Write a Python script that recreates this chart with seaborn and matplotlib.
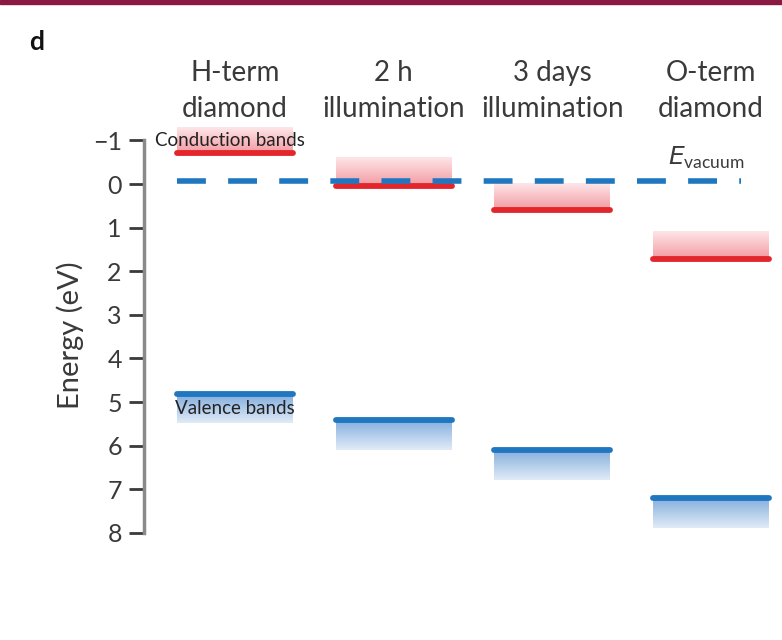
import numpy as np
import pandas as pd
import seaborn as sns
import matplotlib.pyplot as plt
from matplotlib.colors import LinearSegmentedColormap
from matplotlib.patches import Rectangle

# Band positions (energies in eV, positive = below vacuum)
columns = ["H-term\ndiamond", "2 h\nillumination", "3 days\nillumination", "O-term\ndiamond"]
cb_edge = [-0.72, 0.04, 0.60, 1.72]     # conduction band edge (red line)
cb_far = [-1.30, -0.62, 0.00, 1.08]     # top of shaded conduction region
vb_edge = [4.82, 5.41, 6.10, 7.20]      # valence band edge (blue line)
vb_far = [5.48, 6.10, 6.79, 7.89]       # bottom of shaded valence region
e_vacuum = -0.06
yticks = [-1, 0, 1, 2, 3, 4, 5, 6, 7, 8]

sns.set_theme(style="white")
plt.rcParams['font.family'] = ['Lato', 'DejaVu Sans']
plt.rcParams['mathtext.fontset'] = 'dejavusans'

text_col = "#3a3a3a"
red = "#e3262c"
blue = "#1f77c0"
half_w = 0.365

fig = plt.figure(figsize=(7.82, 6.40), dpi=100)
ax = fig.add_axes([144 / 782, 1 - 545.9 / 640, 1 - 144 / 782, 427.3 / 640])

# top magenta rule of the journal panel
fig.patches.append(Rectangle((0, 1 - 4 / 640), 1, 4 / 640, transform=fig.transFigure,
                             color="#8b1a42", zorder=0))

# shaded band regions, fading away from the band edge
pink = LinearSegmentedColormap.from_list("pink", ["#fde6e8", "#f39aa2"])
lblue = LinearSegmentedColormap.from_list("lblue", ["#e0ebf7", "#82addd"])
grad = np.linspace(1, 0, 60).reshape(-1, 1)

for i in range(len(columns)):
    ax.imshow(grad, extent=(i - half_w, i + half_w, cb_far[i], cb_edge[i]),
              cmap=pink, aspect="auto", zorder=1, interpolation="bilinear")
    ax.imshow(grad, extent=(i - half_w, i + half_w, vb_far[i], vb_edge[i]),
              cmap=lblue, aspect="auto", zorder=1, interpolation="bilinear")

# band edge lines as a long table
rows = []
for i in range(len(columns)):
    for dx in (-half_w, half_w):
        rows.append({"x": i + dx, "E": cb_edge[i], "band": f"cb{i}", "kind": "cb"})
        rows.append({"x": i + dx, "E": vb_edge[i], "band": f"vb{i}", "kind": "vb"})
edges = pd.DataFrame(rows)

sns.lineplot(data=edges[edges.kind == "cb"], x="x", y="E", units="band", estimator=None,
             color=red, lw=4.2, ax=ax, zorder=3, sort=False)
sns.lineplot(data=edges[edges.kind == "vb"], x="x", y="E", units="band", estimator=None,
             color=blue, lw=4.2, ax=ax, zorder=3, sort=False)

# vacuum level
sns.lineplot(x=[-half_w, 3.19], y=[e_vacuum, e_vacuum], color=blue, lw=4,
             linestyle=(0, (5.2, 4.0)), ax=ax, zorder=4)

ax.set_xlim(-0.573, 3.447)
ax.set_ylim(8.3, -1.5)
ax.set_yticks(yticks)
ax.set_yticklabels([f"\u2212{abs(t)}" if t < 0 else str(t) for t in yticks])
ax.set_xticks([])
ax.set_xlabel("")
ax.set_ylabel("")
for s in ("top", "right", "bottom"):
    ax.spines[s].set_visible(False)
ax.spines["left"].set_bounds(-1, 8)
ax.spines["left"].set_color("#8a8a8a")
ax.spines["left"].set_linewidth(2.5)
ax.tick_params(axis="y", left=True, length=11, width=2, color="#3a3a3a",
               labelsize=18, labelcolor=text_col, pad=5)

for i, name in enumerate(columns):
    ax.text(i, -2.13, name, ha="center", va="center", fontsize=20, color=text_col,
            linespacing=1.5, clip_on=False)

ax.text(-0.504, -1.0, "Conduction bands", fontsize=13.5, color="#222222",
        ha="left", va="center", zorder=5)
ax.text(-0.378, 5.14, "Valence bands", fontsize=13.5, color="#222222",
        ha="left", va="center", zorder=5)
ax.text(2.73, -0.44, r"$E_{\mathregular{vacuum}}$", fontsize=18, color=text_col,
        ha="left", va="baseline", zorder=5)

fig.text(70 / 782, 1 - 335 / 640, "Energy (eV)", rotation=90, ha="center", va="center",
         fontsize=21, color=text_col)
fig.text(29 / 782, 1 - 50 / 640, "d", fontsize=19, fontweight="bold", color="#111111")

fig.savefig("out.png", dpi=100)
